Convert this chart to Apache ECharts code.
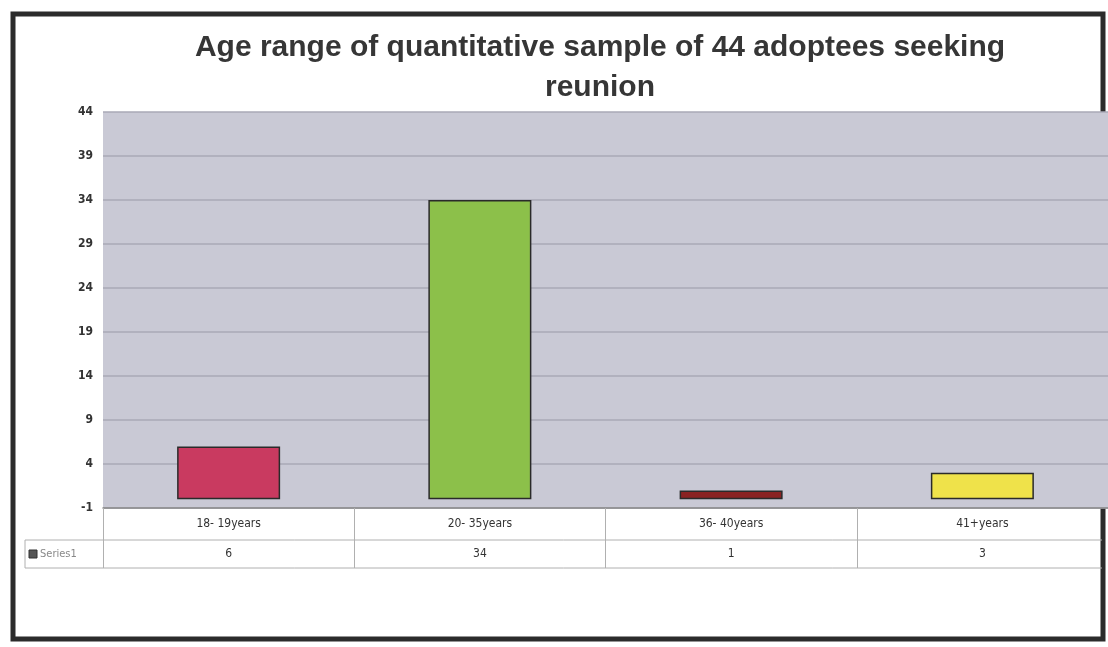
<!DOCTYPE html>
<html>
<head>
<meta charset="utf-8">
<script src="https://cdn.jsdelivr.net/npm/echarts@6/dist/echarts.min.js"></script>
<style>
html,body{margin:0;padding:0;background:#fff;}
#chart{width:1108px;height:647px;}
</style>
</head>
<body>
<div id="chart"></div>
<script>
const titleText = 'Age range of quantitative sample of 44 adoptees seeking\nreunion';
const categories = ['18- 19years', '20- 35years', '36- 40years', '41+years'];
const seriesName = 'Series1';
const values = [6, 34, 1, 3];
const barColors = ['#c93a60', '#8cc04a', '#8a2222', '#efe24a'];
const yMin = -1, yMax = 44, yStep = 5;

const chart = echarts.init(document.getElementById('chart'));
chart.setOption({
  backgroundColor: '#ffffff',
  animation: false,
  title: {
    text: titleText,
    left: 595, top: 23, textAlign: 'center',
    textStyle: { fontFamily: 'Liberation Sans, Arial, sans-serif', fontWeight: 'bold', fontSize: 30, color: '#363636', lineHeight: 40 }
  },
  grid: { left: 103, right: -7, top: 112, bottom: 139, show: true, backgroundColor: '#c9c9d5', borderWidth: 0 },
  xAxis: {
    type: 'category',
    data: categories,
    axisLine: { show: true, onZero: false, lineStyle: { color: '#8a8a8a', width: 1.5 } },
    axisTick: { show: true, length: 60, alignWithLabel: false, lineStyle: { color: '#b0b0b0' } },
    axisLabel: {
      margin: 0,
      interval: 0,
      formatter: function (v, i) { return '{a|' + v + '}\n{b|' + values[i] + '}'; },
      rich: {
        a: { fontFamily: 'Liberation Sans Narrow, DejaVu Sans Condensed, sans-serif', fontSize: 12, color: '#333', lineHeight: 31, letterSpacing: -0.5 },
        b: { fontFamily: 'DejaVu Sans Condensed, sans-serif', fontSize: 12, color: '#333', lineHeight: 29 }
      }
    }
  },
  yAxis: {
    type: 'value',
    min: yMin, max: yMax, interval: yStep,
    axisLine: { show: false },
    axisTick: { show: false },
    axisLabel: { fontFamily: 'DejaVu Sans Condensed, sans-serif', fontWeight: 'bold', fontSize: 12, color: '#333', margin: 10 },
    splitLine: { show: true, lineStyle: { color: '#a9a9b6', width: 1.5 } }
  },
  series: [{
    name: seriesName,
    type: 'bar',
    data: values.map((v, i) => ({ value: v, itemStyle: { color: barColors[i] } })),
    barWidth: '41%',
    itemStyle: { borderColor: '#2a2a2a', borderWidth: 1.5 }
  }],
  graphic: [
    { type: 'rect', z: -10, shape: { x: 13, y: 14, width: 1090, height: 625 }, style: { fill: 'none', stroke: '#2b2b2b', lineWidth: 5 } },
    { type: 'line', shape: { x1: 25, y1: 540, x2: 1102, y2: 540 }, style: { stroke: '#b0b0b0', lineWidth: 1 } },
    { type: 'line', shape: { x1: 25, y1: 568, x2: 1102, y2: 568 }, style: { stroke: '#b0b0b0', lineWidth: 1 } },
    { type: 'line', shape: { x1: 25, y1: 540, x2: 25, y2: 568 }, style: { stroke: '#b0b0b0', lineWidth: 1 } },
    { type: 'rect', shape: { x: 29, y: 550, width: 8, height: 8 }, style: { fill: '#555', stroke: '#333', lineWidth: 1 } },
    { type: 'text', x: 40, y: 554, style: { text: seriesName, fill: '#888', font: '11px DejaVu Sans Condensed, sans-serif', verticalAlign: 'middle' } }
  ]
});
</script>
</body>
</html>
